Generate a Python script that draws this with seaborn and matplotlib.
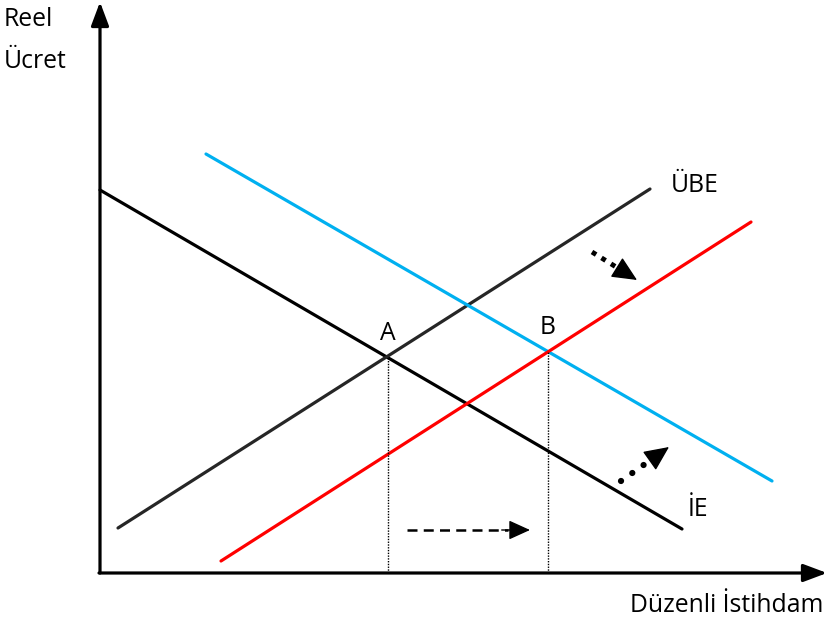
import matplotlib
matplotlib.use("Agg")
import matplotlib.pyplot as plt
import seaborn as sns
import pandas as pd

sns.set_theme(style="white")
plt.rcParams['font.family'] = ['Open Sans', 'DejaVu Sans']
plt.rcParams['text.color'] = 'black'

# Curve endpoints (diagram units: employment, real wage)
ie_x, ie_y = [0, 582], [383, 44]
ube_x, ube_y = [18, 550], [45, 384]
ie2_x, ie2_y = [106, 672], [419, 92]
ube2_x, ube2_y = [121, 651], [12, 351]

# Equilibrium points
pt_labels = ["A", "B"]
pt_x = [288, 448]
pt_y = [216, 222]

colors = {"İE": "#000000", "ÜBE": "#262626", "İE2": "#00B0F0", "ÜBE2": "#FF0000"}

df = pd.DataFrame({
    "x": ie_x + ube_x + ie2_x + ube2_x,
    "y": ie_y + ube_y + ie2_y + ube2_y,
    "curve": ["İE"] * 2 + ["ÜBE"] * 2 + ["İE2"] * 2 + ["ÜBE2"] * 2,
})

FS = 17.8

fig = plt.figure(figsize=(8.27, 6.21), dpi=100)
ax = fig.add_axes([0, 0, 1, 1])
ax.set_xlim(-100, 727)
ax.set_ylim(-48, 573)
ax.axis("off")

sns.lineplot(data=df, x="x", y="y", hue="curve", palette=colors, sort=False,
             estimator=None, linewidth=2.3, legend=False, ax=ax)

# Axes with arrows
ax.annotate("", xy=(0, 571), xytext=(0, 0),
            arrowprops=dict(arrowstyle="-|>,head_length=1.2,head_width=0.45",
                            lw=2.3, color="black", shrinkA=0, shrinkB=0))
ax.annotate("", xy=(727, 0), xytext=(-1, 0),
            arrowprops=dict(arrowstyle="-|>,head_length=1.2,head_width=0.45",
                            lw=2.3, color="black", shrinkA=0, shrinkB=0))

# Dotted verticals
for px, py in zip(pt_x, pt_y):
    ax.plot([px, px], [0, py], color="black", lw=1.0, ls=(0, (1, 1)))

# Point labels
for lab, px, py in zip(pt_labels, pt_x, pt_y):
    ax.text(px, py + 11, lab, ha="center", va="bottom", fontsize=FS, color="black")

# Curve labels
ax.text(571, 388, "ÜBE", ha="left", va="center", fontsize=FS, color="black")
ax.text(588, 63, "İE", ha="left", va="center", fontsize=FS, color="black")

# Axis titles
ax.text(-96, 553, "Reel", ha="left", va="center", fontsize=FS, color="black")
ax.text(-96, 511, "Ücret", ha="left", va="center", fontsize=FS, color="black")
ax.text(723, -32, "Düzenli İstihdam", ha="right", va="center", fontsize=FS, color="black")


def shift_arrow(x0, y0, x1, y1, ls, lw, cap, hl, hw):
    frac = 0.82
    xm, ym = x0 + (x1 - x0) * frac, y0 + (y1 - y0) * frac
    ax.plot([x0, xm], [y0, ym], color="black", lw=lw, ls=ls, dash_capstyle=cap)
    ax.annotate("", xy=(x1, y1), xytext=(xm - (x1 - x0) * 0.05, ym - (y1 - y0) * 0.05),
                arrowprops=dict(arrowstyle=f"-|>,head_length={hl},head_width={hw}",
                                lw=1, color="black", shrinkA=0, shrinkB=0))


shift_arrow(307, 43, 430, 43, (0, (4, 2.5)), 1.8, "butt", 1.1, 0.5)
shift_arrow(492, 321, 537, 293, (0, (1, 1.3)), 3.5, "butt", 1.3, 0.6)
shift_arrow(521, 92, 569, 126, (0, (0.01, 2.2)), 4.5, "round", 1.3, 0.6)

fig.savefig("out.png", dpi=100)
